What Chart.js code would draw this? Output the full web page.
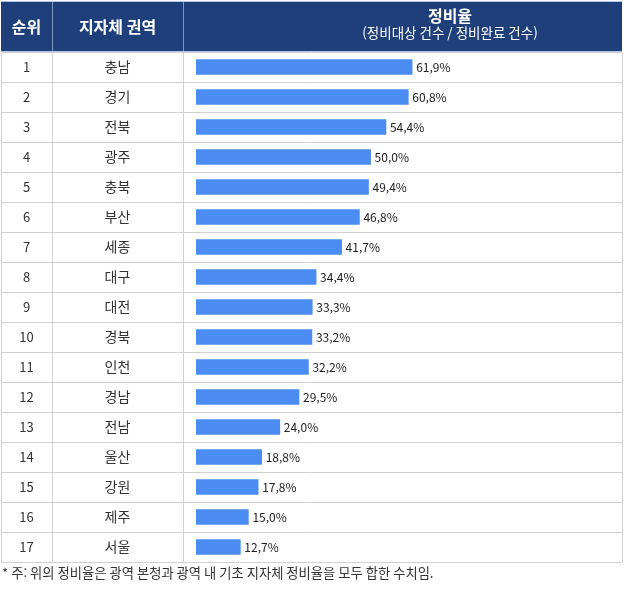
<!DOCTYPE html>
<html lang="ko">
<head>
    <meta charset="UTF-8">
    <title>지자체 권역별 정비율</title>
    <script src="https://cdn.jsdelivr.net/npm/chart.js"></script>
</head>
<body style="margin: 0; background-color: #ffffff;">
    <canvas id="chart" width="625" height="589" style="display: block;"></canvas>

    <script>
        // 데이터
        const ranks = [1, 2, 3, 4, 5, 6, 7, 8, 9, 10, 11, 12, 13, 14, 15, 16, 17];
        const regions = ['충남', '경기', '전북', '광주', '충북', '부산', '세종', '대구', '대전', '경북', '인천', '경남', '전남', '울산', '강원', '제주', '서울'];
        const rates = [61.9, 60.8, 54.4, 50.0, 49.4, 46.8, 41.7, 34.4, 33.3, 33.2, 32.2, 29.5, 24.0, 18.8, 17.8, 15.0, 12.7];

        const headers = ['순위', '지자체 권역', '정비율'];
        const subHeader = '(정비대상 건수 / 정비완료 건수)';
        const footnote = '* 주: 위의 정비율은 광역 본청과 광역 내 기초 지자체 정비율을 모두 합한 수치임.';

        const FONT = '"Noto Sans CJK KR", "Noto Sans", sans-serif';
        const colX = [1, 52, 183, 622]; // bords des colonnes
        const headTop = 2, headBottom = 51;

        function fmt(v) {
            return v.toFixed(1).replace('.', ',') + '%';
        }

        // dessine le tableau autour des barres
        const tablePlugin = {
            id: 'table',
            beforeDatasetsDraw(chart) {
                const ctx = chart.ctx;
                const y = chart.scales.y;
                const top = chart.chartArea.top;
                const step = (chart.chartArea.bottom - top) / regions.length;
                ctx.save();

                // en-tête
                ctx.fillStyle = '#1f3f7b';
                ctx.fillRect(colX[0], headTop, colX[3] - colX[0], headBottom - headTop);
                ctx.fillStyle = '#b4c4e4';
                ctx.fillRect(colX[0], headBottom, colX[3] - colX[0], 1);
                ctx.fillRect(colX[0], headTop - 1, colX[3] - colX[0], 1);
                ctx.fillStyle = '#7f96c4';
                ctx.fillRect(colX[1], headTop, 1, headBottom - headTop);
                ctx.fillRect(colX[2], headTop, 1, headBottom - headTop);

                ctx.fillStyle = '#ffffff';
                ctx.textAlign = 'center';
                ctx.textBaseline = 'middle';
                ctx.font = 'bold 16px ' + FONT;
                ctx.fillText(headers[0], (colX[0] + colX[1]) / 2, 27);
                ctx.fillText(headers[1], (colX[1] + colX[2]) / 2, 27);
                ctx.fillText(headers[2], 450, 16);
                ctx.font = '13.5px ' + FONT;
                ctx.fillText(subHeader, 450, 33);

                // lignes du tableau
                ctx.strokeStyle = '#d0d0d0';
                ctx.lineWidth = 1;
                for (let i = 0; i <= regions.length; i++) {
                    const ly = Math.round(top + i * step) + 0.5;
                    ctx.beginPath();
                    ctx.moveTo(colX[0], ly);
                    ctx.lineTo(colX[3], ly);
                    ctx.stroke();
                }
                const bottom = Math.round(chart.chartArea.bottom);
                colX.forEach(x => {
                    ctx.beginPath();
                    ctx.moveTo(x + 0.5, headBottom + 1);
                    ctx.lineTo(x + 0.5, bottom);
                    ctx.stroke();
                });

                // rang et région
                ctx.fillStyle = '#333333';
                regions.forEach((r, i) => {
                    const cy = y.getPixelForValue(i);
                    ctx.font = '13px ' + FONT;
                    ctx.fillText(String(ranks[i]), (colX[0] + colX[1]) / 2, cy);
                    ctx.font = '14px ' + FONT;
                    ctx.fillText(r, (colX[1] + colX[2]) / 2, cy);
                });

                // note
                ctx.textAlign = 'left';
                ctx.font = '13.3px ' + FONT;
                ctx.fillText(footnote, 2, bottom + 11);
                ctx.restore();
            },
            afterDatasetsDraw(chart) {
                const ctx = chart.ctx;
                const meta = chart.getDatasetMeta(0);
                ctx.save();
                ctx.fillStyle = '#222222';
                ctx.font = '12px ' + FONT;
                ctx.textAlign = 'left';
                ctx.textBaseline = 'middle';
                meta.data.forEach((bar, i) => {
                    ctx.fillText(fmt(rates[i]), bar.x + 4, bar.y);
                });
                ctx.restore();
            }
        };

        const ctx = document.getElementById('chart').getContext('2d');
        new Chart(ctx, {
            type: 'bar',
            data: {
                labels: regions,
                datasets: [{
                    data: rates,
                    backgroundColor: '#4a8cf2',
                    borderWidth: 0,
                    barThickness: 15
                }]
            },
            options: {
                indexAxis: 'y',
                responsive: false,
                animation: false,
                layout: { padding: { left: 196, right: 10, top: 52, bottom: 27 } },
                plugins: {
                    legend: { display: false },
                    tooltip: { enabled: false }
                },
                scales: {
                    x: { display: false, min: 0, max: 120 },
                    y: { display: false }
                }
            },
            plugins: [tablePlugin]
        });
    </script>
</body>
</html>
